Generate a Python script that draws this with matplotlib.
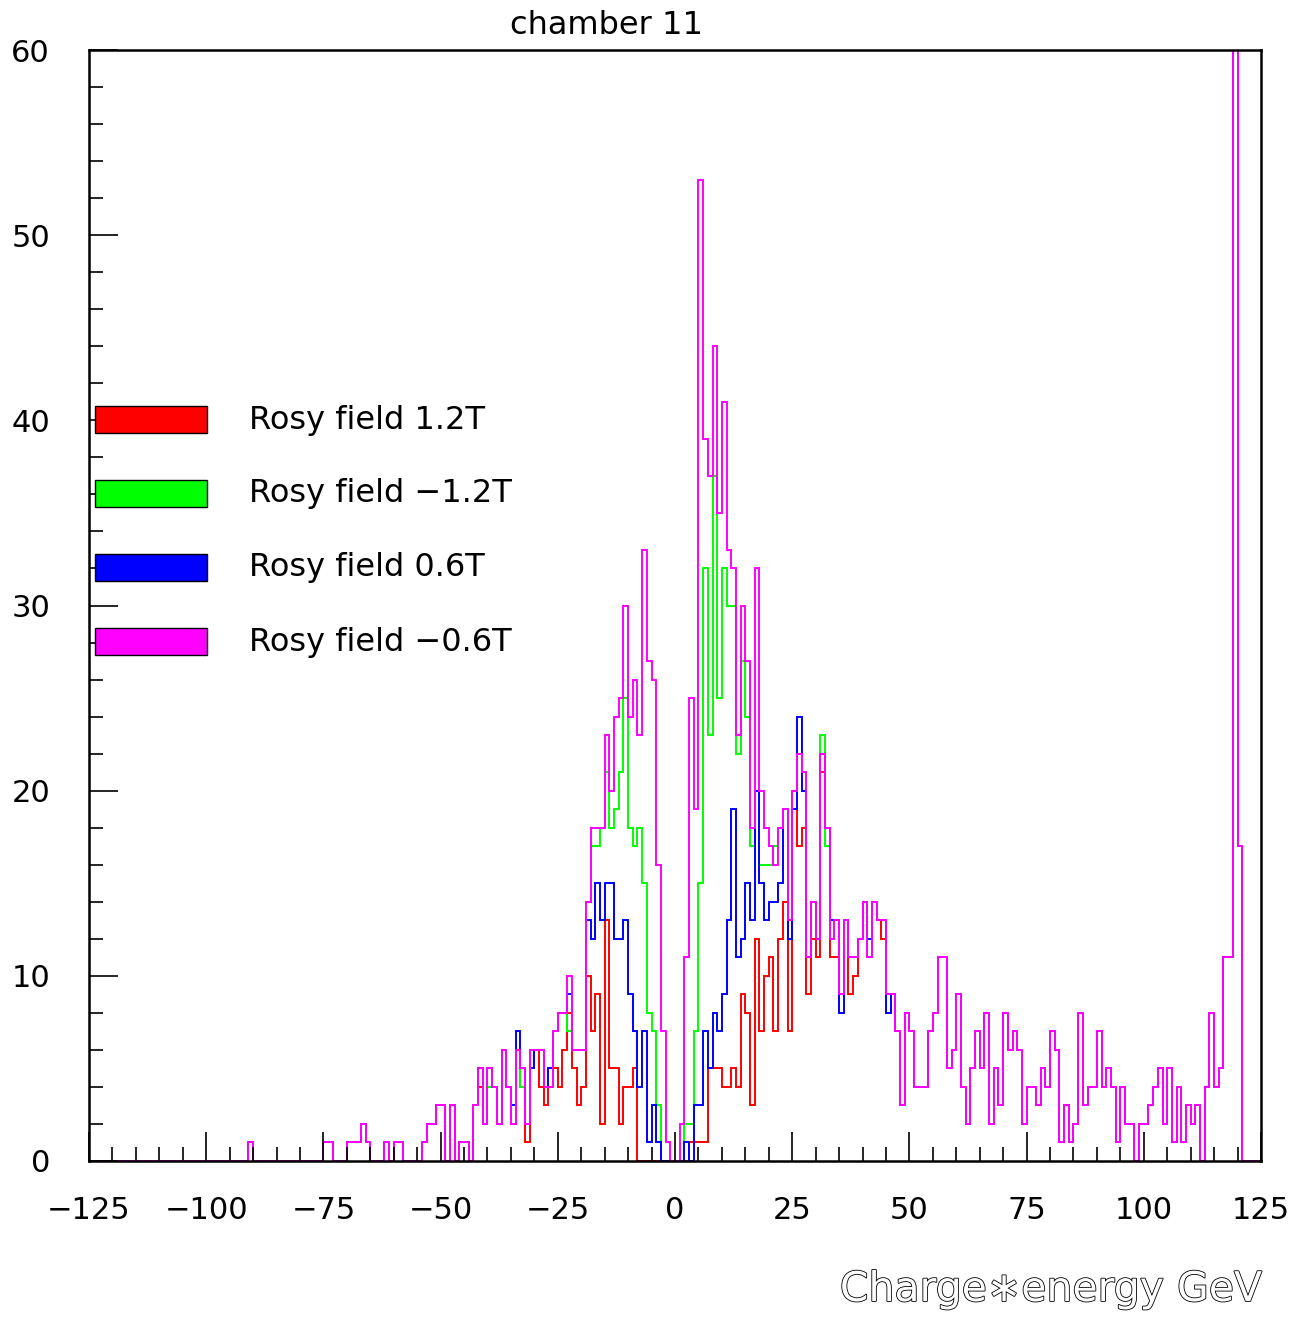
import numpy as np
import matplotlib
matplotlib.use("Agg")
import matplotlib.pyplot as plt
import matplotlib.patheffects as pe
from matplotlib.patches import Rectangle
from matplotlib.ticker import MultipleLocator

# ---------------- data (1 GeV bins from -125 to 125) ----------------
bin_lo, bin_hi = -125, 125

# shared left tail: bins -125 .. -46
tail_left = [0]*34 + [1] + [0]*15 + [1, 1, 0, 0, 0, 1, 1, 1, 2, 1, 0, 0, 0,
             1, 0, 1, 1, 0, 0, 0, 0, 1, 2, 2, 3, 3, 0, 3, 0, 1]

# shared right tail: bins 46 .. 124
tail_right = [9, 7, 3, 8, 7, 4, 4, 4, 7, 8, 11, 11, 5, 6, 9, 4, 2, 5, 7, 5,
              8, 2, 5, 3, 8, 6, 7, 6, 2, 4, 4, 3, 5, 4, 7, 6, 1, 3, 1, 2,
              8, 3, 4, 4, 7, 4, 5, 4, 1, 4, 2, 2, 0, 2, 2, 3, 4, 5, 2, 5,
              1, 4, 1, 3, 2, 3, 0, 4, 8, 4, 5, 11, 11, 60, 17, 0, 0, 0, 0]

# central bins -45 .. 45
center_red = [1, 0, 3, 4, 2, 5, 4, 2, 6, 4, 2, 6, 4, 1, 6, 6, 4, 3, 4, 5,
              4, 6, 8, 5, 3, 4, 10, 7, 9, 2, 13, 5, 5, 2, 4, 4, 5, 0, 0, 0,
              0, 0, 0, 0, 0,
              0, 0, 0, 1, 1, 1, 1, 5, 5, 5, 4, 4, 5, 4, 9, 8, 3, 12, 7, 10,
              11, 7, 12, 14, 7, 19, 17, 18, 9, 12, 11, 21, 18, 11, 11, 9, 13, 9, 10, 12,
              14, 11, 14, 13, 12, 9]
center_green = [1, 0, 3, 5, 2, 4, 4, 2, 6, 4, 3, 6, 4, 2, 5, 6, 6, 4, 4, 7,
                8, 8, 7, 6, 6, 6, 14, 17, 17, 18, 21, 18, 19, 21, 25, 18, 17, 18, 15, 8,
                7, 3, 0, 0, 0,
                0, 0, 2, 2, 7, 15, 32, 23, 37, 25, 32, 30, 30, 22, 27, 24, 17, 20, 16, 16,
                16, 17, 18, 19, 13, 20, 22, 21, 11, 14, 12, 23, 17, 12, 13, 9, 13, 11, 11, 12,
                14, 11, 14, 13, 13, 9]
center_blue = [1, 0, 3, 5, 2, 5, 4, 2, 6, 4, 3, 7, 5, 2, 5, 6, 6, 4, 5, 7,
               8, 8, 9, 6, 6, 6, 13, 12, 15, 13, 15, 15, 12, 12, 13, 9, 7, 4, 7, 1,
               3, 1, 0, 0, 0,
               0, 0, 1, 0, 3, 3, 7, 5, 8, 7, 9, 13, 19, 11, 12, 15, 13, 20, 15, 13,
               14, 14, 15, 19, 12, 19, 24, 20, 11, 14, 12, 22, 18, 13, 13, 8, 13, 11, 11, 12,
               14, 12, 14, 13, 13, 8]
center_magenta = [1, 0, 3, 5, 2, 5, 4, 2, 6, 4, 2, 6, 5, 2, 6, 6, 6, 4, 4, 7,
                  8, 8, 10, 6, 6, 6, 14, 18, 18, 18, 23, 20, 24, 25, 30, 24, 26, 23, 33, 27,
                  26, 16, 7, 1, 0,
                  0, 2, 11, 25, 19, 53, 39, 37, 44, 35, 41, 33, 32, 23, 30, 27, 18, 32, 20, 18,
                  17, 16, 18, 19, 13, 20, 22, 21, 11, 14, 12, 22, 18, 12, 13, 9, 13, 11, 11, 12,
                  14, 11, 14, 13, 13, 9]

series_labels = ["Rosy field 1.2T", "Rosy field \u22121.2T",
                 "Rosy field 0.6T", "Rosy field \u22120.6T"]
series_colors = ["#ff0000", "#00ff00", "#0000ff", "#ff00ff"]
series_center = [center_red, center_green, center_blue, center_magenta]

x_ticks = [-125, -100, -75, -50, -25, 0, 25, 50, 75, 100, 125]
y_ticks = [0, 10, 20, 30, 40, 50, 60]

# ---------------- figure ----------------
W, H = 1311, 1317
fig = plt.figure(figsize=(W/100, H/100), dpi=100)
ax = fig.add_axes([89/W, 1 - 1161/H, (1261-89)/W, (1161-50)/H])

edges = np.arange(bin_lo, bin_hi + 1)
for center, col in zip(series_center, series_colors):
    vals = np.array(tail_left + center + tail_right, dtype=float)
    ax.stairs(vals, edges, color=col, linewidth=1.4, baseline=0)

ax.set_xlim(bin_lo, bin_hi)
ax.set_ylim(0, 60)

tick_font = dict(family="DejaVu Sans", size=22)
ax.set_xticks(x_ticks)
ax.set_xticklabels([str(t).replace("-", "\u2212") for t in x_ticks], fontdict=tick_font)
ax.set_yticks(y_ticks)
ax.set_yticklabels([str(t) for t in y_ticks], fontdict=tick_font)
ax.xaxis.set_minor_locator(MultipleLocator(5))
ax.yaxis.set_minor_locator(MultipleLocator(2))
ax.tick_params(which="major", direction="in", length=21, width=1.2,
               top=False, right=False)
ax.tick_params(which="minor", direction="in", length=10, width=1.2,
               top=False, right=False)
ax.tick_params(axis="x", which="major", pad=25)
ax.tick_params(axis="y", which="major", pad=28)
for lab in ax.get_yticklabels():
    lab.set_horizontalalignment("right")
for sp in ax.spines.values():
    sp.set_linewidth(1.8)

# title and axis label
fig.text(607/W, 1 - 25/H, "chamber 11", ha="center", va="center",
         fontsize=23, family="DejaVu Sans")
fig.text(1262/W, 1 - 1290/H, "Charge\u2217energy GeV", ha="right", va="center",
         fontsize=29.5, family="DejaVu Sans", color="white",
         path_effects=[pe.Stroke(linewidth=1.2, foreground="black"), pe.Normal()])

# legend drawn manually
leg_y = [420, 494, 568, 642]
for yy, col, lab in zip(leg_y, series_colors, series_labels):
    rect = Rectangle((95/W, 1 - (yy+13)/H), 112/W, 27/H, transform=fig.transFigure,
                     facecolor=col, edgecolor="black", linewidth=1.0)
    fig.patches.append(rect)
    fig.text(249/W, 1 - yy/H, lab, ha="left", va="center", fontsize=23,
             family="DejaVu Sans")

fig.savefig("out.png", dpi=100)
